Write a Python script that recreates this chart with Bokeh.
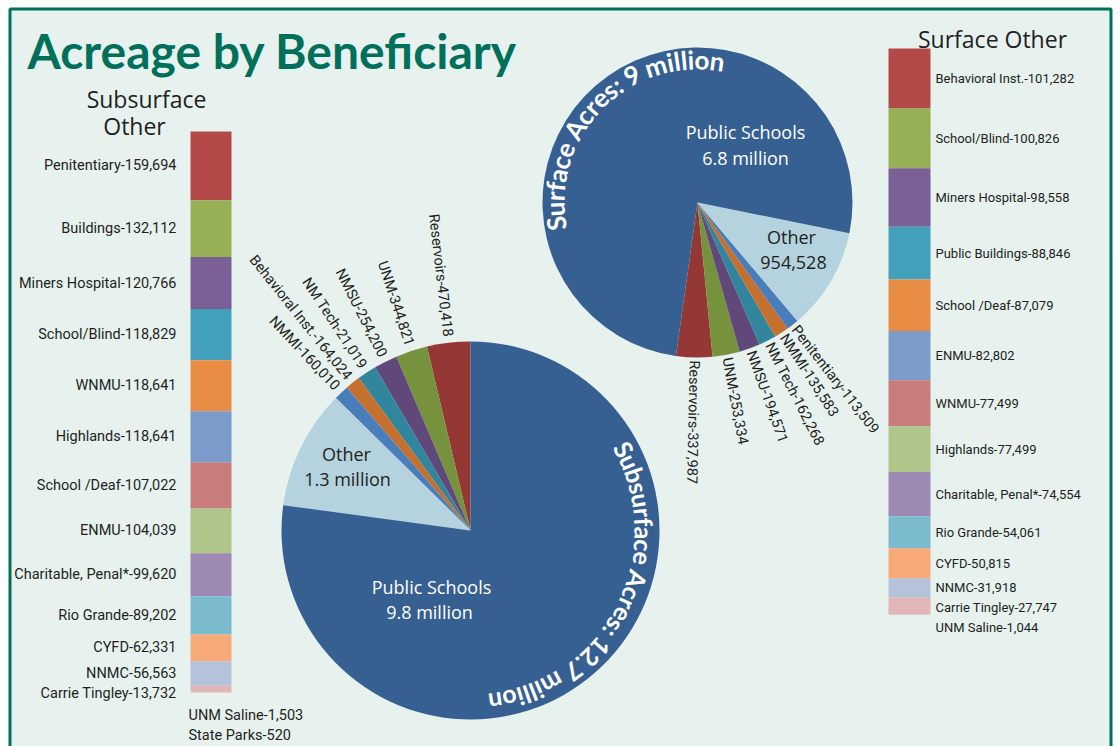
import numpy as np
from math import radians, cos, sin, pi
from bokeh.plotting import figure
from bokeh.models import Range1d
from bokeh.core.properties import value
from bokeh.embed import file_html
from bokeh.resources import INLINE

# ---------------- data ----------------
sub_bar_names = ["Penitentiary", "Buildings", "Miners Hospital", "School/Blind", "WNMU",
                 "Highlands", "School /Deaf", "ENMU", "Charitable, Penal*", "Rio Grande",
                 "CYFD", "NNMC", "Carrie Tingley", "UNM Saline", "State Parks"]
sub_bar_values = [159694, 132112, 120766, 118829, 118641, 118641, 107022, 104039, 99620,
                  89202, 62331, 56563, 13732, 1503, 520]

surf_bar_names = ["Behavioral Inst.", "School/Blind", "Miners Hospital", "Public Buildings",
                  "School /Deaf", "ENMU", "WNMU", "Highlands", "Charitable, Penal*",
                  "Rio Grande", "CYFD", "NNMC", "Carrie Tingley", "UNM Saline"]
surf_bar_values = [101282, 100826, 98558, 88846, 87079, 82802, 77499, 77499, 74554,
                   54061, 50815, 31918, 27747, 1044]

sub_pie_names = ["Reservoirs", "UNM", "NMSU", "NM Tech", "Behavioral Inst.", "NMMI"]
sub_pie_values = [470418, 344821, 254200, 210190, 164024, 160010]
sub_pie_printed = ["470,418", "344,821", "254,200", "21,019", "164,024", "160,010"]
sub_other_value = 1_300_000
sub_public_value = 9_800_000
sub_total_text = "12.7"

surf_pie_names = ["Reservoirs", "UNM", "NMSU", "NM Tech", "NMMI", "Penitentiary"]
surf_pie_values = [337987, 253334, 194571, 162268, 135583, 113509]
surf_other_value = 954528
surf_public_value = 6_800_000
surf_total_text = "9"

# ---------------- styles ----------------
pie_colors = ["#953735", "#77923c", "#60497a", "#31859c", "#c5702e", "#4a7ebb"]
public_color = "#376092"
other_color = "#b4d3de"
bar_colors = ["#b34a48", "#95b055", "#7b5f97", "#42a0bb", "#e98c43", "#7d9bc9", "#c87c7b",
              "#aec689", "#9d89b3", "#7cbbcd", "#f7a978", "#b4c3da", "#e2b6b6", "#d8a8a8", "#c9b9b9"]
TXT = "#231f20"
GREEN = "#00705b"
BG = "#e7f2ef"
NARROW = "Roboto"

W, H = 1120, 746


def Y(y_img):
    return H - y_img


p = figure(width=W, height=H, x_range=Range1d(0, W), y_range=Range1d(0, H),
           output_backend="svg", toolbar_location=None, min_border=0,
           x_axis_location=None, y_axis_location=None)
p.grid.visible = False
p.outline_line_color = None
p.background_fill_color = "white"
p.border_fill_color = "white"

# frame
p.quad(left=[9.5], right=[1110.5], top=[Y(8.5)], bottom=[-20], fill_color=BG,
       line_color=GREEN, line_width=3)

# title
p.text(x=[27], y=[Y(50)], text=["Acreage by Beneficiary"], text_font=value("Lato"),
       text_font_style="bold", text_font_size="48px", text_color=GREEN,
       text_baseline="middle", text_align="left")


# ---------------- pies ----------------
def draw_pie(cx, cy_img, r, start_deg, small_vals, other_val, public_val):
    vals = np.array(list(small_vals) + [other_val, public_val], dtype=float)
    ang = vals / vals.sum() * 2 * pi
    ends = radians(start_deg) + np.cumsum(ang)
    starts = ends - ang
    cols = pie_colors[:len(small_vals)] + [other_color, public_color]
    p.wedge(x=cx, y=Y(cy_img), radius=r, start_angle=starts, end_angle=ends,
            direction="anticlock", fill_color=cols, line_color=None)
    return (starts + ends) / 2


W_EM = {' ': 0.22, 'S': 0.50, 'u': 0.56, 'b': 0.57, 's': 0.43, 'r': 0.39, 'f': 0.34,
        'a': 0.51, 'c': 0.47, 'e': 0.53, 'A': 0.70, ':': 0.27, '9': 0.58, '1': 0.58,
        '2': 0.58, '7': 0.58, '.': 0.25, 'm': 0.85, 'i': 0.26, 'l': 0.26, 'o': 0.57, 'n': 0.57}


def arc_text(txt, cx, cy_img, rc, mid_deg, fs, track=1.04):
    ws = [W_EM.get(c, 0.55) * fs * track for c in txt]
    L = sum(ws)
    phi0 = radians(mid_deg) + L / (2 * rc)
    xs, ys, angs, chars = [], [], [], []
    s = 0.0
    for c, w in zip(txt, ws):
        sc = s + w / 2
        s += w
        if c == ' ':
            continue
        phi = phi0 - sc / rc
        xs.append(cx + rc * cos(phi))
        ys.append(Y(cy_img) + rc * sin(phi))
        angs.append(phi - pi / 2)
        chars.append(c)
    p.text(x=xs, y=ys, text=chars, angle=angs, text_align="center",
           text_baseline="middle", text_font=value("Lato"), text_font_style="bold",
           text_font_size=f"{fs}px", text_color="white")


def center_texts(xs, ys_img, texts, color, fs="18px"):
    p.text(x=xs, y=[Y(v) for v in ys_img], text=texts, text_align="center",
           text_baseline="middle", text_font=value("Open Sans"), text_font_size=fs,
           text_color=color)


# surface pie (upper right)
scx, scy, sr = 697, 202, 155
smid = draw_pie(scx, scy, sr, -98, surf_pie_values, surf_other_value, surf_public_value)
n = len(surf_pie_values)
lab_r = sr + 3
p.text(x=[scx + lab_r * cos(a) for a in smid[:n]],
       y=[Y(scy) + lab_r * sin(a) for a in smid[:n]],
       text=[f"{nm}-{v:,}" for nm, v in zip(surf_pie_names, surf_pie_values)],
       angle=list(smid[:n]), text_align="left", text_baseline="middle",
       text_font=value(NARROW), text_font_size="14.5px", text_color=TXT)
arc_text(f"Surface Acres: {surf_total_text} million", scx, scy, 143, 135, 26)
center_texts([745, 745], [131, 157],
             ["Public Schools", f"{surf_public_value / 1e6:.1f} million"], "white")
center_texts([791, 793], [236, 262], ["Other", f"{surf_other_value:,}"], TXT)

# subsurface pie (lower middle)
bcx, bcy, br = 470, 530, 189
bmid = draw_pie(bcx, bcy, br, 90, sub_pie_values, sub_other_value, sub_public_value)
n = len(sub_pie_values)
lab_r = br + 6
p.text(x=[bcx + lab_r * cos(a) for a in bmid[:n]],
       y=[Y(bcy) + lab_r * sin(a) for a in bmid[:n]],
       text=[f"{nm}-{t}" for nm, t in zip(sub_pie_names, sub_pie_printed)],
       angle=[a - pi for a in bmid[:n]], text_align="right", text_baseline="middle",
       text_font=value(NARROW), text_font_size="14.5px", text_color=TXT)
arc_text(f"Subsurface Acres: {sub_total_text} million", bcx, bcy, 174, -27, 25)
center_texts([431, 429], [586, 611],
             ["Public Schools", f"{sub_public_value / 1e6:.1f} million"], "white")
center_texts([346, 347], [453, 478], ["Other", f"{sub_other_value / 1e6:.1f} million"], TXT)


# ---------------- stacked bars ----------------
def draw_bar(names, values, x0, x1, top_img, bot_img, rname, n_side, lab_x, align, fs, gap):
    vals = np.array(values, dtype=float)
    total = vals.sum()
    s = total / (bot_img - top_img)          # acres per pixel
    b = Y(bot_img)
    p.extra_y_ranges[rname] = Range1d(-b * s, (H - b) * s)
    cum = np.cumsum(vals)
    tops = total - (cum - vals)
    bots = total - cum
    p.quad(left=x0, right=x1, top=tops, bottom=bots, fill_color=bar_colors[:len(vals)],
           line_color=None, y_range_name=rname)
    centers = (tops + bots) / 2
    ys = []
    for i in range(n_side):
        yv = centers[i]
        if ys:
            yv = min(yv, ys[-1] - gap * s)
        ys.append(yv)
    p.text(x=[lab_x] * n_side, y=ys,
           text=[f"{nm}-{v:,}" for nm, v in zip(names[:n_side], values[:n_side])],
           text_align=align, text_baseline="middle", text_font=value(NARROW),
           text_font_size=fs, text_color=TXT, y_range_name=rname)


draw_bar(sub_bar_names, sub_bar_values, 190, 231, 131, 692, "sub", 13, 176, "right",
         "14.5px", 20)
# the two tiny ones under the bar
p.text(x=[188, 188], y=[Y(715), Y(735)],
       text=[f"{nm}-{v:,}" for nm, v in zip(sub_bar_names[13:], sub_bar_values[13:])],
       text_align="left", text_baseline="middle", text_font=value(NARROW),
       text_font_size="14.5px", text_color=TXT)
draw_bar(surf_bar_names, surf_bar_values, 888, 930, 48, 614, "surf", len(surf_bar_values),
         935, "left", "13px", 20)

# headers
center_texts([146, 134], [98, 125], ["Subsurface", "Other"], TXT, "23px")
center_texts([992], [38], ["Surface Other"], TXT, "23px")

open("out.html", "w").write(file_html(p, INLINE))
